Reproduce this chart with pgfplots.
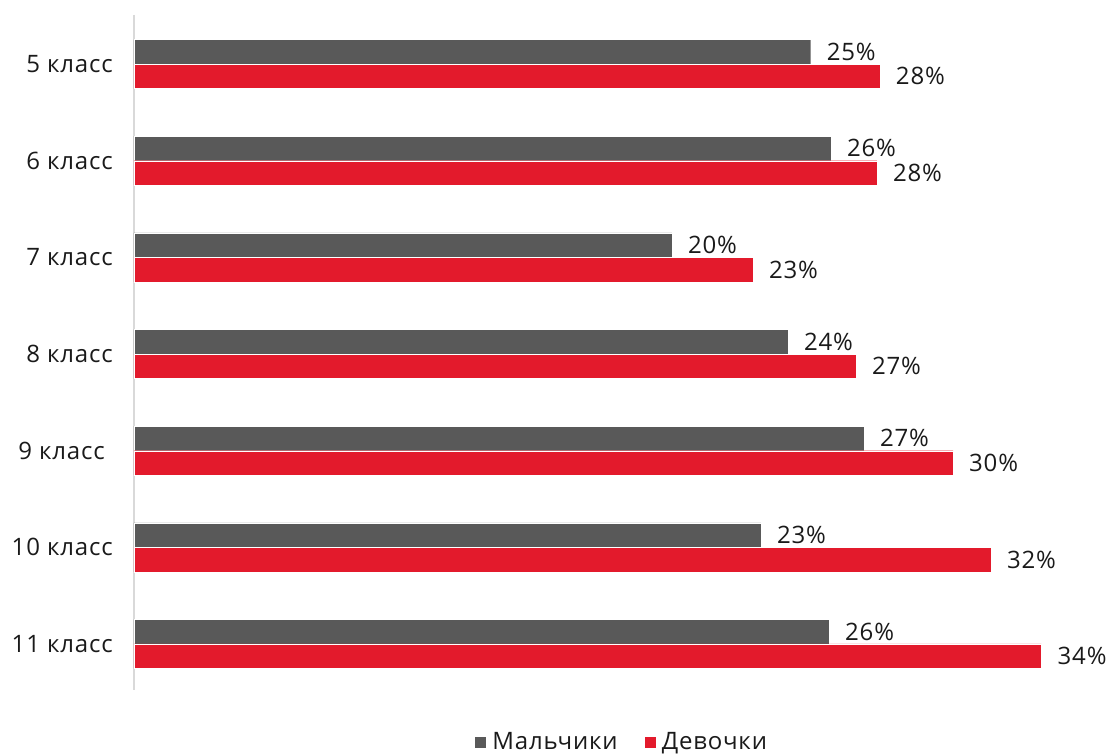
\documentclass[border=0pt]{standalone}
\usepackage{pgfplots}
\pgfplotsset{compat=1.18}
\usepackage{fontspec}
\setmainfont{Open Sans}[LetterSpace=3.5]
\definecolor{cgray}{HTML}{595959}
\definecolor{cred}{HTML}{E31A2C}
\definecolor{ctext}{HTML}{1A1A1A}
\begin{document}
\begin{tikzpicture}
\useasboundingbox (-134pt,-64pt) rectangle (975pt,690pt);
\begin{axis}[
  at={(0pt,0pt)}, anchor=south west,
  scale only axis,
  width=975pt, height=675pt,
  xmin=0, xmax=36.25,
  ymin=-0.507, ymax=6.476,
  y dir=reverse,
  xbar, bar width=24.5pt,
  axis x line=none,
  axis y line=left,
  y axis line style={-, draw=black!15, line width=1.6pt},
  ytick={0,...,6},
  yticklabels={5 класс,6 класс,7 класс,8 класс,9 класс\hspace*{8pt},10 класс,11 класс},
  major tick length=0pt,
  yticklabel style={font=\fontsize{24}{28}\selectfont, text=ctext, inner sep=0pt, xshift=-21pt},
  clip=false,
  point meta=explicit symbolic,
  nodes near coords={\pgfplotspointmeta\%},
  nodes near coords style={font=\fontsize{24}{28}\selectfont, text=ctext, anchor=west, inner sep=0pt, xshift=16pt},
  legend style={at={(0.5,-0.077)}, anchor=center, draw=none, fill=none,
    font=\fontsize{24}{28}\selectfont, text=ctext, legend columns=2,
    /tikz/every even column/.append style={column sep=24pt},
    /tikz/every odd column/.append style={column sep=0pt}},
  legend image code/.code={\fill[#1] (0pt,-6pt) rectangle (12pt,6pt); \path (16pt,0pt);},
]
\addplot[fill=cgray, draw=white, line width=0.3pt, bar shift=12.25pt] coordinates {
  (25.16,0) [25] (25.91,1) [26] (20.00,2) [20] (24.31,3) [24]
  (27.14,4) [27] (23.31,5) [23] (25.84,6) [26]};
\addplot[fill=cred, draw=white, line width=0.3pt, bar shift=-12.25pt] coordinates {
  (27.73,0) [28] (27.62,1) [28] (23.01,2) [23] (26.84,3) [27]
  (30.45,4) [30] (31.86,5) [32] (33.74,6) [34]};
\legend{Мальчики, Девочки}
\end{axis}
\end{tikzpicture}
\end{document}
